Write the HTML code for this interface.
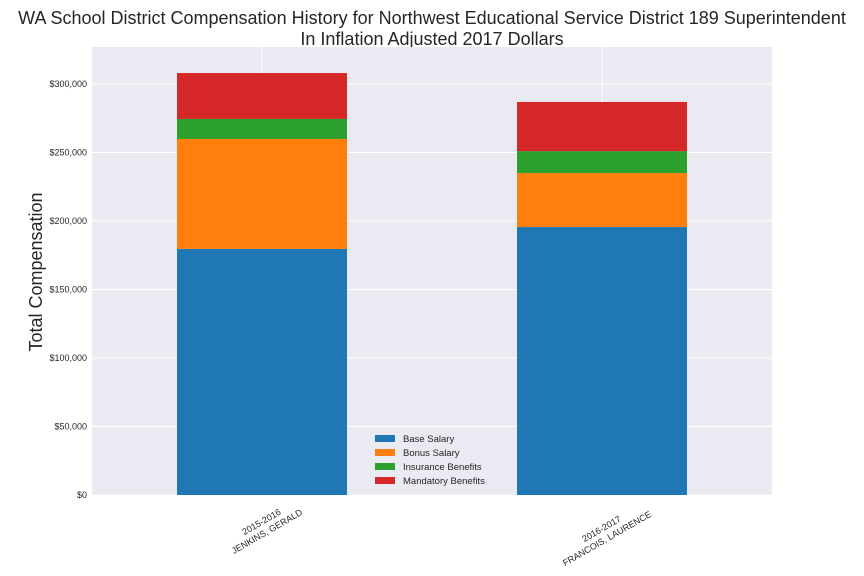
<!DOCTYPE html>
<html><head><meta charset="utf-8"><style>body{margin:0;background:#fff}svg{display:block;font-family:"Liberation Sans",sans-serif}</style></head>
<body>
<svg width="864" height="576">
<text x="432" y="24" text-anchor="middle" font-size="18" fill="#262626">WA School District Compensation History for Northwest Educational Service District 189 Superintendent</text>
<text x="432" y="45" text-anchor="middle" font-size="18" fill="#262626">In Inflation Adjusted 2017 Dollars</text>
<rect x="92" y="47" width="680" height="448" fill="#eaeaf2"/>
<g id="grid"></g><g id="bars"></g><g id="yticks"></g><g id="xticks"></g>
<text transform="translate(42,272) rotate(-90)" text-anchor="middle" font-size="18" fill="#262626">Total Compensation</text>
<g id="legend"></g>
</svg>
<script>
const categories=["2015-2016|JENKINS, GERALD","2016-2017|FRANCOIS, LAURENCE"];
const seriesNames=["Base Salary","Bonus Salary","Insurance Benefits","Mandatory Benefits"];
const baseSalary=[179600,195600];
const bonusSalary=[80300,39400];
const insuranceBenefits=[14600,16000];
const mandatoryBenefits=[33500,35900];
const yTicks=[0,50000,100000,150000,200000,250000,300000];
const colors=["#1f77b4","#ff7f0e","#2ca02c","#d62728"];
const NS="http://www.w3.org/2000/svg";
const y=v=>495-v*411/300000;
const x=i=>262+i*340;
function mk(t,a,p){const e=document.createElementNS(NS,t);for(const k in a)e.setAttribute(k,a[k]);p.appendChild(e);return e;}
const grid=document.getElementById('grid'),bars=document.getElementById('bars'),yt=document.getElementById('yticks'),xt=document.getElementById('xticks'),lg=document.getElementById('legend');
yTicks.forEach(v=>{
 const l=mk('line',{x1:92,x2:772,y1:y(v),y2:y(v),stroke:'#fff','stroke-width':1},grid);
 
 
 const t=mk('text',{x:87,y:y(v)+3,'text-anchor':'end','font-size':9,fill:'#262626'},yt);
 t.textContent='$'+v.toLocaleString('en-US');
 
 
});
categories.forEach((c,i)=>{
 const l=mk('line',{x1:x(i),x2:x(i),y1:47,y2:495,stroke:'#fff','stroke-width':1},grid);
 
 
 const vals=[baseSalary[i],bonusSalary[i],insuranceBenefits[i],mandatoryBenefits[i]];
 let acc=0;
 vals.forEach((v,s)=>{
  const r=mk('rect',{x:x(i)-85,width:170,y:y(acc+v),height:y(acc)-y(acc+v),fill:colors[s]},bars);
  
  
  acc+=v;
 });
 const g=mk('g',{transform:`translate(${x(i)+3},${528+i*7}) rotate(-30)`},xt);
 
 
 const p=c.split('|');
 [p[0],p[1]].forEach((s,j)=>{const t=mk('text',{x:0,y:-4+j*11,'text-anchor':'middle','font-size':9,fill:'#262626'},g);t.textContent=s;});
});
seriesNames.forEach((n,s)=>{
 const r=mk('rect',{x:375,y:435+s*14,width:20,height:7,fill:colors[s]},lg);
 
 
 const t=mk('text',{x:403,y:442+s*14,'font-size':9.5,fill:'#262626'},lg);
 t.textContent=n;
 
 
});
</script>
</body></html>
